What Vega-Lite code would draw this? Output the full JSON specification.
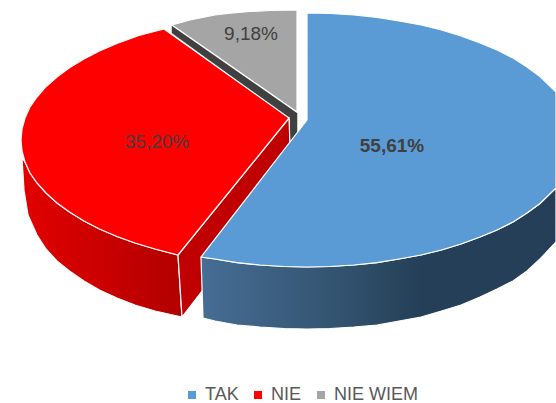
{
"$schema":"https://vega.github.io/schema/vega-lite/v6.json",
"width":556,"height":403,
"autosize":{"type":"none"},
"padding":0,
"background":"white",
"view":{"stroke":null},
"config":{"font":"Liberation Sans"},
"datasets":{
"shares":[
{"slice":"TAK","share":55.61,"label":"55,61%","lx":392,"ly":146},
{"slice":"NIE","share":35.20,"label":"35,20%","lx":157,"ly":142},
{"slice":"NIE WIEM","share":9.18,"label":"9,18%","lx":251,"ly":34}
],
"faces":[
{"face":"grayBand","i":1,"px":172,"py":26},{"face":"grayBand","i":2,"px":297,"py":113},{"face":"grayBand","i":3,"px":297,"py":136},{"face":"grayBand","i":4,"px":290,"py":141},{"face":"grayBand","i":5,"px":290,"py":119},{"face":"grayBand","i":6,"px":172,"py":33},{"face":"grayBand","i":7,"px":172,"py":26},
{"face":"grayTop","slice":"NIE WIEM","i":1,"px":172,"py":25},{"face":"grayTop","slice":"NIE WIEM","i":2,"px":190,"py":20},{"face":"grayTop","slice":"NIE WIEM","i":3,"px":215,"py":15},{"face":"grayTop","slice":"NIE WIEM","i":3.5,"px":230,"py":13.2},{"face":"grayTop","slice":"NIE WIEM","i":4,"px":250,"py":11.5},{"face":"grayTop","slice":"NIE WIEM","i":4.5,"px":270,"py":10.5},{"face":"grayTop","slice":"NIE WIEM","i":5,"px":297,"py":10},{"face":"grayTop","slice":"NIE WIEM","i":6,"px":297,"py":112},{"face":"grayTop","slice":"NIE WIEM","i":7,"px":172,"py":25},
{"face":"redSide","i":1,"px":22,"py":158},{"face":"redSide","i":2,"px":25,"py":162},{"face":"redSide","i":2.5,"px":30,"py":173},{"face":"redSide","i":3,"px":37,"py":183},{"face":"redSide","i":3.5,"px":46,"py":193},{"face":"redSide","i":4,"px":57,"py":203},{"face":"redSide","i":4.5,"px":69.5,"py":212},{"face":"redSide","i":5,"px":84,"py":221},{"face":"redSide","i":5.5,"px":99.5,"py":229},{"face":"redSide","i":6,"px":117,"py":236.5},{"face":"redSide","i":6.5,"px":135,"py":243},{"face":"redSide","i":7,"px":155,"py":249},{"face":"redSide","i":8,"px":178,"py":255},{"face":"redSide","i":9,"px":182,"py":317},{"face":"redSide","i":10,"px":155,"py":311},{"face":"redSide","i":10.5,"px":135,"py":305},{"face":"redSide","i":11,"px":117,"py":298},{"face":"redSide","i":11.5,"px":99.5,"py":290},{"face":"redSide","i":12,"px":84,"py":281},{"face":"redSide","i":12.5,"px":69.5,"py":271},{"face":"redSide","i":13,"px":57,"py":261},{"face":"redSide","i":13.5,"px":46,"py":249},{"face":"redSide","i":14,"px":37,"py":235},{"face":"redSide","i":15,"px":28,"py":215},{"face":"redSide","i":16,"px":24,"py":190},{"face":"redSide","i":17,"px":22,"py":158},
{"face":"redInner","i":1,"px":178,"py":255},{"face":"redInner","i":2,"px":289,"py":118},{"face":"redInner","i":3,"px":290,"py":145},{"face":"redInner","i":4,"px":202,"py":291},{"face":"redInner","i":5,"px":182,"py":317},{"face":"redInner","i":6,"px":178,"py":255},
{"face":"redTop","slice":"NIE","i":1,"px":289,"py":118},{"face":"redTop","slice":"NIE","i":2,"px":164,"py":29},{"face":"redTop","slice":"NIE","i":3,"px":139,"py":35.5},{"face":"redTop","slice":"NIE","i":4,"px":117,"py":43.5},{"face":"redTop","slice":"NIE","i":4.5,"px":99.5,"py":51},{"face":"redTop","slice":"NIE","i":5,"px":84,"py":59},{"face":"redTop","slice":"NIE","i":5.5,"px":69.5,"py":67.7},{"face":"redTop","slice":"NIE","i":6,"px":57,"py":77},{"face":"redTop","slice":"NIE","i":6.5,"px":46,"py":86.7},{"face":"redTop","slice":"NIE","i":7,"px":37,"py":97},{"face":"redTop","slice":"NIE","i":7.5,"px":30,"py":107},{"face":"redTop","slice":"NIE","i":8,"px":25,"py":118},{"face":"redTop","slice":"NIE","i":8.5,"px":22,"py":129},{"face":"redTop","slice":"NIE","i":9,"px":21,"py":140},{"face":"redTop","slice":"NIE","i":9.5,"px":22,"py":151},{"face":"redTop","slice":"NIE","i":10,"px":25,"py":162},{"face":"redTop","slice":"NIE","i":10.5,"px":30,"py":173},{"face":"redTop","slice":"NIE","i":11,"px":37,"py":183},{"face":"redTop","slice":"NIE","i":11.5,"px":46,"py":193},{"face":"redTop","slice":"NIE","i":12,"px":57,"py":203},{"face":"redTop","slice":"NIE","i":12.5,"px":69.5,"py":212},{"face":"redTop","slice":"NIE","i":13,"px":84,"py":221},{"face":"redTop","slice":"NIE","i":13.5,"px":99.5,"py":229},{"face":"redTop","slice":"NIE","i":14,"px":117,"py":236.5},{"face":"redTop","slice":"NIE","i":14.5,"px":135,"py":243},{"face":"redTop","slice":"NIE","i":15,"px":155,"py":249},{"face":"redTop","slice":"NIE","i":16,"px":178,"py":255},{"face":"redTop","slice":"NIE","i":17,"px":289,"py":118},
{"face":"blueSide","i":1,"px":201,"py":257},{"face":"blueSide","i":2,"px":215,"py":259},{"face":"blueSide","i":2.5,"px":237,"py":262.7},{"face":"blueSide","i":3,"px":260,"py":265},{"face":"blueSide","i":3.5,"px":284,"py":266.5},{"face":"blueSide","i":4,"px":307,"py":267},{"face":"blueSide","i":4.5,"px":330,"py":266.5},{"face":"blueSide","i":5,"px":354,"py":265},{"face":"blueSide","i":5.5,"px":377,"py":262.7},{"face":"blueSide","i":6,"px":399,"py":259},{"face":"blueSide","i":6.5,"px":421,"py":255},{"face":"blueSide","i":7,"px":441.5,"py":250},{"face":"blueSide","i":7.5,"px":461,"py":244},{"face":"blueSide","i":8,"px":480,"py":237},{"face":"blueSide","i":8.5,"px":497,"py":230},{"face":"blueSide","i":9,"px":513,"py":222},{"face":"blueSide","i":9.5,"px":527,"py":213},{"face":"blueSide","i":10,"px":540,"py":203.5},{"face":"blueSide","i":11,"px":556,"py":188},{"face":"blueSide","i":12,"px":556,"py":242},{"face":"blueSide","i":13,"px":540,"py":259},{"face":"blueSide","i":13.5,"px":527,"py":271},{"face":"blueSide","i":14,"px":513,"py":281},{"face":"blueSide","i":14.5,"px":497,"py":289},{"face":"blueSide","i":15,"px":480,"py":297},{"face":"blueSide","i":15.5,"px":461,"py":305},{"face":"blueSide","i":16,"px":441.5,"py":311},{"face":"blueSide","i":16.5,"px":421,"py":317},{"face":"blueSide","i":17,"px":399,"py":321},{"face":"blueSide","i":17.5,"px":377,"py":325},{"face":"blueSide","i":18,"px":354,"py":327},{"face":"blueSide","i":18.5,"px":330,"py":328.5},{"face":"blueSide","i":19,"px":307,"py":329},{"face":"blueSide","i":19.5,"px":284,"py":328.5},{"face":"blueSide","i":20,"px":260,"py":327},{"face":"blueSide","i":20.5,"px":237,"py":325},{"face":"blueSide","i":21,"px":215,"py":321},{"face":"blueSide","i":22,"px":203,"py":318},{"face":"blueSide","i":23,"px":201,"py":257},
{"face":"blueTop","slice":"TAK","i":1,"px":307,"py":120},{"face":"blueTop","slice":"TAK","i":2,"px":307,"py":13},{"face":"blueTop","slice":"TAK","i":2.5,"px":330,"py":13.5},{"face":"blueTop","slice":"TAK","i":3,"px":354,"py":15},{"face":"blueTop","slice":"TAK","i":3.5,"px":377,"py":17.3},{"face":"blueTop","slice":"TAK","i":4,"px":399,"py":21},{"face":"blueTop","slice":"TAK","i":4.5,"px":421,"py":25},{"face":"blueTop","slice":"TAK","i":5,"px":441.5,"py":30},{"face":"blueTop","slice":"TAK","i":5.5,"px":461,"py":36},{"face":"blueTop","slice":"TAK","i":6,"px":480,"py":43},{"face":"blueTop","slice":"TAK","i":6.5,"px":497,"py":50},{"face":"blueTop","slice":"TAK","i":7,"px":513,"py":58},{"face":"blueTop","slice":"TAK","i":7.5,"px":527,"py":67},{"face":"blueTop","slice":"TAK","i":8,"px":540,"py":76.5},{"face":"blueTop","slice":"TAK","i":9,"px":556,"py":92},{"face":"blueTop","slice":"TAK","i":10,"px":556,"py":188},{"face":"blueTop","slice":"TAK","i":11,"px":540,"py":203.5},{"face":"blueTop","slice":"TAK","i":11.5,"px":527,"py":213},{"face":"blueTop","slice":"TAK","i":12,"px":513,"py":222},{"face":"blueTop","slice":"TAK","i":12.5,"px":497,"py":230},{"face":"blueTop","slice":"TAK","i":13,"px":480,"py":237},{"face":"blueTop","slice":"TAK","i":13.5,"px":461,"py":244},{"face":"blueTop","slice":"TAK","i":14,"px":441.5,"py":250},{"face":"blueTop","slice":"TAK","i":14.5,"px":421,"py":255},{"face":"blueTop","slice":"TAK","i":15,"px":399,"py":259},{"face":"blueTop","slice":"TAK","i":15.5,"px":377,"py":262.7},{"face":"blueTop","slice":"TAK","i":16,"px":354,"py":265},{"face":"blueTop","slice":"TAK","i":16.5,"px":330,"py":266.5},{"face":"blueTop","slice":"TAK","i":17,"px":307,"py":267},{"face":"blueTop","slice":"TAK","i":17.5,"px":284,"py":266.5},{"face":"blueTop","slice":"TAK","i":18,"px":260,"py":265},{"face":"blueTop","slice":"TAK","i":18.5,"px":237,"py":262.7},{"face":"blueTop","slice":"TAK","i":19,"px":215,"py":259},{"face":"blueTop","slice":"TAK","i":20,"px":201,"py":257},{"face":"blueTop","slice":"TAK","i":21,"px":307,"py":120}
]},
"data":{"name":"faces"},
"encoding":{
"x":{"field":"px","type":"quantitative","scale":{"domain":[0,556],"nice":false,"zero":false},"axis":null},
"y":{"field":"py","type":"quantitative","scale":{"domain":[403,0],"nice":false,"zero":false},"axis":null},
"order":{"field":"i","type":"quantitative"}
},
"layer":[
{"transform":[{"filter":"datum.face==='grayBand'"}],"mark":{"type":"line","fill":"#404040","stroke":"#404040","strokeWidth":0.5}},
{"transform":[{"filter":"datum.face==='redSide'"}],"mark":{"type":"line","stroke":"white","strokeWidth":1.2,"fill":{"gradient":"linear","x1":0,"x2":1,"y1":0,"y2":0,"stops":[{"offset":0,"color":"#e20000"},{"offset":1,"color":"#b20000"}]}}},
{"transform":[{"filter":"datum.face==='redInner'"}],"mark":{"type":"line","stroke":"white","strokeWidth":1.2,"fill":"#c00000"}},
{"transform":[{"filter":"datum.face==='blueSide'"}],"mark":{"type":"line","stroke":"white","strokeWidth":1.2,"fill":{"gradient":"linear","x1":0,"x2":1,"y1":0,"y2":0,"stops":[{"offset":0,"color":"#466d95"},{"offset":0.35,"color":"#355673"},{"offset":0.62,"color":"#243f57"},{"offset":1,"color":"#243f57"}]}}},
{"transform":[{"filter":"datum.face==='grayTop'||datum.face==='redTop'||datum.face==='blueTop'"}],
 "mark":{"type":"line","stroke":"white","strokeWidth":1.2},
 "encoding":{"fill":{"field":"slice","type":"nominal","sort":null,
  "scale":{"domain":["TAK","NIE","NIE WIEM"],"range":["#5b9bd5","#ff0000","#a5a5a5"]},
  "legend":{"title":null,"orient":"none","legendX":183,"legendY":386,"direction":"horizontal","columns":3,"padding":0,"symbolType":"square","symbolSize":64,"symbolStrokeWidth":0,"symbolStrokeColor":"transparent","labelFont":"Liberation Sans","labelFontSize":18,"labelColor":"#595959","labelOffset":4,"columnPadding":10}}}},
{"data":{"name":"shares"},"transform":[{"filter":"datum.slice==='TAK'"}],
 "mark":{"type":"text","fontSize":19,"fontWeight":"bold","color":"#404040"},
 "encoding":{"x":{"field":"lx","type":"quantitative"},"y":{"field":"ly","type":"quantitative"},"text":{"field":"label"},"order":{"value":null}}},
{"data":{"name":"shares"},"transform":[{"filter":"datum.slice!=='TAK'"}],
 "mark":{"type":"text","fontSize":19,"color":"#404040"},
 "encoding":{"x":{"field":"lx","type":"quantitative"},"y":{"field":"ly","type":"quantitative"},"text":{"field":"label"},"order":{"value":null}}}
]
}
